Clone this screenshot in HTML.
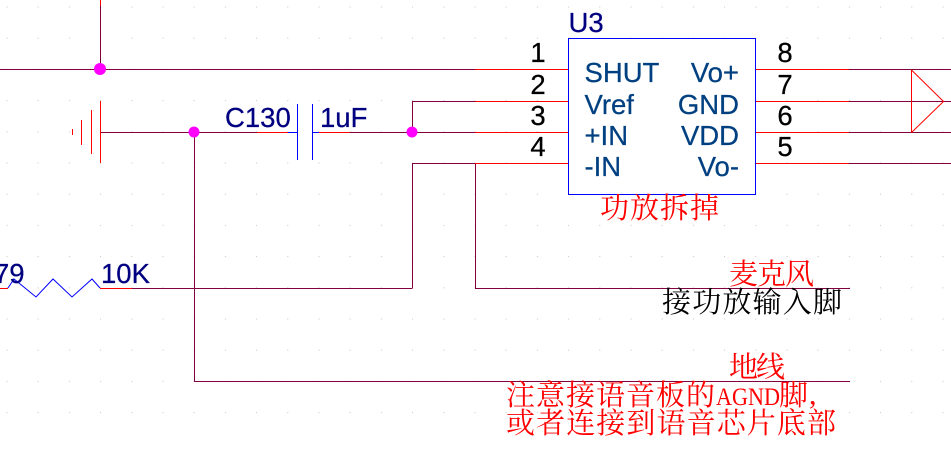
<!DOCTYPE html>
<html>
<head>
<meta charset="utf-8">
<style>
html,body{margin:0;padding:0;background:#fff;width:951px;height:456px;overflow:hidden}
svg{display:block}
.n{font-family:"Liberation Sans",sans-serif;font-size:27.5px;stroke-width:.25px}
.c{font-family:"Noto Serif CJK SC","Liberation Serif",serif;font-size:29px}
</style>
</head>
<body>
<svg xmlns="http://www.w3.org/2000/svg" width="951" height="456" viewBox="0 0 951 456">
<defs>
<pattern id="g" x="6.5" y="6.5" width="31.2" height="31.2" patternUnits="userSpaceOnUse">
<rect width="1" height="1" fill="#c4c4c4"/>
</pattern>
</defs>
<rect width="951" height="456" fill="#fff"/>
<rect x="0" y="0" width="951" height="420" fill="url(#g)"/>
<rect x="569" y="39" width="186" height="155" fill="#fff"/>

<g fill="none" stroke="#800040" stroke-width="1" shape-rendering="crispEdges">
<path d="M100.5 6V69.5M0 69.5H475M100 132.5H257M350 132.5H475M412.5 101V132M412 101.5H475M412.5 163V288.5M412 163.5H475M475.5 163V288.5M475 288.5H850M132 288.5H412M194.5 132V381.5M194 381.5H850"/>
<path d="M849 69.5H951M849 101.5H951M849 132.5H951M849 163.5H951"/>
</g>

<g fill="none" stroke="#ff0000" stroke-width="1" shape-rendering="crispEdges">
<path d="M100.5 0V6M475 69.5H568M475 101.5H568M475 132.5H568M475 163.5H568M756 69.5H849M756 101.5H849M756 132.5H849M756 163.5H849M257 132.5H288M319 132.5H350M0 288.5H8M100 288.5H132"/>
<path d="M100.5 101V163M91.5 110V154M81.5 120V145M72.5 129V135"/>
<path d="M911.5 70V132"/>
</g>
<path d="M911.5 70L943.5 101.5L911.5 132.5" fill="none" stroke="#ff0000" stroke-width="1"/>

<g fill="none" stroke="#0000ff" stroke-width="1" shape-rendering="crispEdges">
<rect x="568.5" y="38.5" width="187" height="156"/>
<path d="M288 132.5H297M297.5 104V160M312.5 104V160M313 132.5H319"/>
</g>
<path d="M8 288L14 279L36 297L53 279L72 297L92 279L100 288" fill="none" stroke="#0000ff" stroke-width="1"/>

<g fill="#ff00ff">
<circle cx="100" cy="69" r="6"/>
<circle cx="194" cy="132" r="5.5"/>
<circle cx="412" cy="132" r="5.5"/>
</g>

<g class="n" fill="#000080" stroke="#000080">
<text x="225" y="127">C130</text>
<text x="320" y="127">1uF</text>
<text x="568.5" y="32">U3</text>
<text x="-6" y="283">79</text>
<text x="101" y="283">10K</text>
</g>

<g class="n" fill="#000000" stroke="#000000" text-anchor="middle">
<text x="538" y="62">1</text>
<text x="538" y="94">2</text>
<text x="538" y="125">3</text>
<text x="538" y="156">4</text>
<text x="785" y="62">8</text>
<text x="785" y="94">7</text>
<text x="785" y="125">6</text>
<text x="785" y="156">5</text>
</g>

<g class="n" fill="#004080" stroke="#004080">
<text x="584.5" y="82">SHUT</text>
<text x="584.5" y="114">Vref</text>
<text x="584.5" y="145">+IN</text>
<text x="584.5" y="176">-IN</text>
<g text-anchor="end">
<text x="739" y="82">Vo+</text>
<text x="739" y="114">GND</text>
<text x="739" y="145">VDD</text>
<text x="739" y="176">Vo-</text>
</g>
</g>

<g class="c" fill="#ff0000">
<text x="600" y="218" textLength="119" lengthAdjust="spacing">功放拆掉</text>
<text x="729" y="284" textLength="85" lengthAdjust="spacing">麦克风</text>
<text x="729" y="377" textLength="56" lengthAdjust="spacing">地线</text>
<text x="506" y="405" textLength="209" lengthAdjust="spacing">注意接语音板的</text>
<text x="716" y="405" textLength="64" lengthAdjust="spacingAndGlyphs" style="font-family:'Liberation Serif',serif;font-size:25px">AGND</text>
<text x="779" y="405">脚</text>
<text x="809" y="404" style="font-family:'Liberation Serif',serif;font-size:30px">,</text>
<text x="506" y="433" textLength="330" lengthAdjust="spacing">或者连接到语音芯片底部</text>
</g>
<text class="c" x="662" y="312" textLength="180" lengthAdjust="spacing" fill="#000000">接功放输入脚</text>
</svg>
</body>
</html>
